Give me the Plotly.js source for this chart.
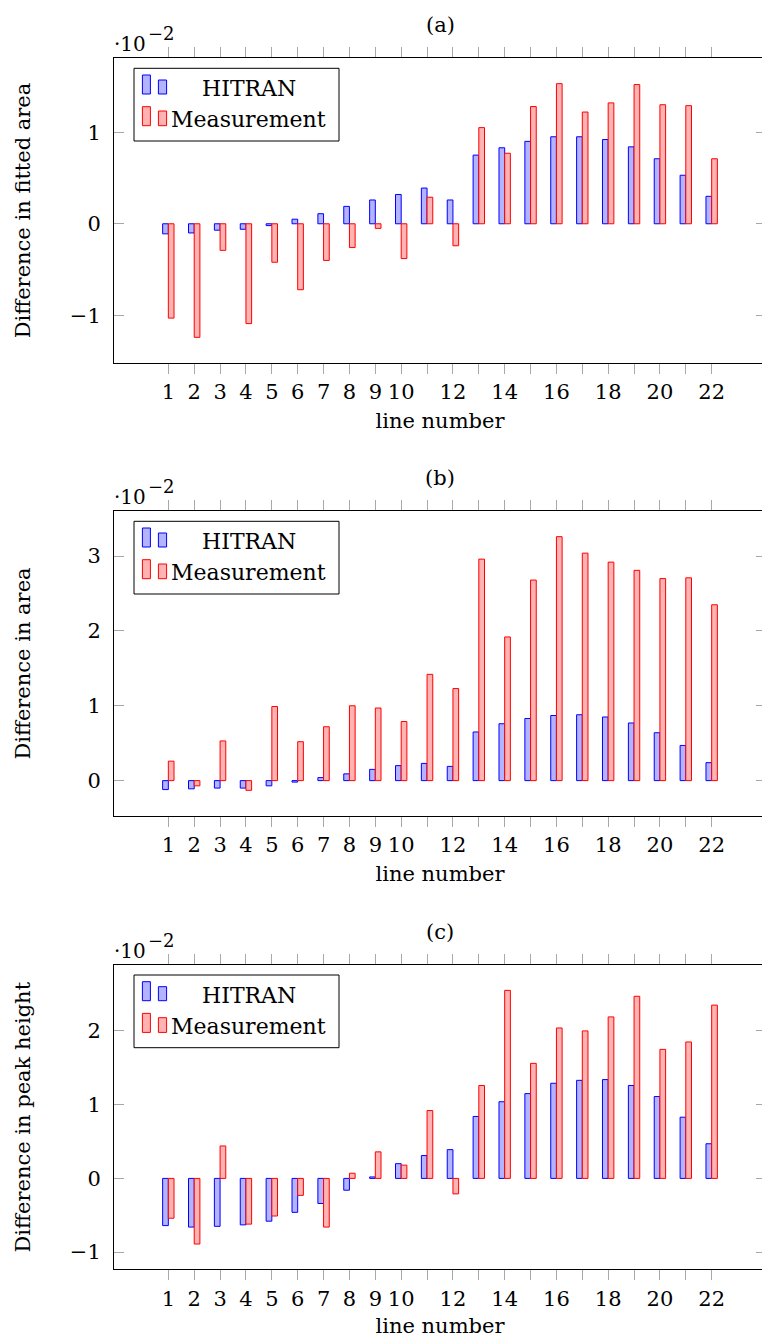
<!DOCTYPE html>
<html>
<head>
<meta charset="utf-8">
<script src="https://cdn.plot.ly/plotly-3.0.1.min.js"></script>
<style>
  html, body { margin: 0; padding: 0; overflow: hidden; background: #fff; }
  #chart { width: 780px; height: 1338px; }
</style>
</head>
<body>
<div id="chart"></div>
<script>
// Line numbers and their tick labels
const lineNumbers = [1,2,3,4,5,6,7,8,9,10,11,12,13,14,15,16,17,18,19,20,21,22];
const tickLabels = ['1','2','3','4','5','6','7','8','9','10','','12','','14','','16','','18','','20','','22'];

// (a) difference in fitted area, units of 1e-2
const fittedHitran = [-0.11,-0.10,-0.07,-0.06,-0.02,0.05,0.11,0.19,0.26,0.32,0.39,0.26,0.75,0.83,0.90,0.95,0.95,0.92,0.84,0.71,0.53,0.30];
const fittedMeas   = [-1.03,-1.24,-0.29,-1.09,-0.42,-0.72,-0.40,-0.26,-0.05,-0.38,0.29,-0.24,1.05,0.77,1.28,1.53,1.22,1.32,1.52,1.30,1.29,0.71];

// (b) difference in area, units of 1e-2
const areaHitran = [-0.12,-0.11,-0.10,-0.10,-0.07,-0.02,0.04,0.09,0.15,0.20,0.23,0.19,0.65,0.76,0.83,0.87,0.88,0.85,0.77,0.64,0.47,0.24];
const areaMeas   = [0.26,-0.07,0.53,-0.13,0.99,0.52,0.72,1.00,0.97,0.79,1.42,1.23,2.96,1.92,2.68,3.26,3.04,2.92,2.81,2.70,2.71,2.35];

// (c) difference in peak height, units of 1e-2
const heightHitran = [-0.64,-0.66,-0.65,-0.63,-0.58,-0.46,-0.34,-0.16,0.02,0.20,0.31,0.39,0.84,1.04,1.15,1.29,1.33,1.34,1.26,1.11,0.83,0.47];
const heightMeas   = [-0.54,-0.89,0.44,-0.62,-0.51,-0.23,-0.66,0.07,0.36,0.18,0.92,-0.21,1.26,2.55,1.56,2.04,2.00,2.19,2.47,1.75,1.85,2.35];

const panelTitles = ['(a)', '(b)', '(c)'];
const yTitles = ['Difference in fitted area', 'Difference in area', 'Difference in peak height'];
const seriesNames = ['HITRAN', 'Measurement'];

const panels = [
  { hitran: fittedHitran, meas: fittedMeas },
  { hitran: areaHitran, meas: areaMeas },
  { hitran: heightHitran, meas: heightMeas }
];

// Page geometry (pixels)
const W = 780, H = 1338;
const mL = 114, mR = 14;
const plotW = W - mL - mR;
const boxTops = [58.3, 511.3, 965];
const boxH = 304.4;
// y titles sit at the same page x; panels without negative tick labels need a larger standoff
const yTitleStandoff = [33, 51, 33];

const FONT = 'DejaVu Serif, serif';
const BLUE = 'rgb(0,0,255)', BLUE_FILL = 'rgb(179,179,255)';
const RED = 'rgb(255,0,0)', RED_FILL = 'rgb(255,179,179)';
const BAR_W = 0.22;

// axis limits enlarged by 10% of the data span on each side
function enlarged(lo, hi) {
  const d = hi - lo;
  return [lo - 0.1 * d, hi + 0.1 * d];
}

const traces = [];
const layout = {
  width: W, height: H,
  margin: { l: mL, r: mR, t: 0, b: 0, pad: 0 },
  paper_bgcolor: '#fff', plot_bgcolor: '#fff',
  showlegend: false,
  barmode: 'overlay',
  font: { family: FONT, color: '#000', size: 21 },
  annotations: [],
  shapes: []
};

// pixel offset inside a panel box -> axis-domain fraction
const dx = (px) => px / plotW;
const dy = (py) => 1 - py / boxH;

panels.forEach((p, i) => {
  const n = i === 0 ? '' : String(i + 1);
  const xa = 'x' + n, ya = 'y' + n;
  const top = boxTops[i];

  traces.push({
    type: 'bar', name: seriesNames[0], x: lineNumbers, y: p.hitran,
    xaxis: xa, yaxis: ya, width: BAR_W, offset: -BAR_W,
    marker: { color: BLUE_FILL, line: { color: BLUE, width: 1 } }
  });
  traces.push({
    type: 'bar', name: seriesNames[1], x: lineNumbers, y: p.meas,
    xaxis: xa, yaxis: ya, width: BAR_W, offset: 0,
    marker: { color: RED_FILL, line: { color: RED, width: 1 } }
  });

  const all = p.hitran.concat(p.meas, [0]);
  const xr = enlarged(Math.min(...lineNumbers), Math.max(...lineNumbers));

  layout['xaxis' + n] = {
    anchor: ya, domain: [0, 1], range: xr, fixedrange: true,
    tickmode: 'array', tickvals: lineNumbers, ticktext: tickLabels,
    ticks: 'outside', ticklen: 10, tickwidth: 1, tickcolor: '#a8a8a8',
    showline: true, linecolor: '#000', linewidth: 1, mirror: 'ticks',
    showgrid: false, zeroline: false,
    tickfont: { family: FONT, size: 21, color: '#000' },
    title: { text: 'line number', font: { family: FONT, size: 21, color: '#000' }, standoff: 10 }
  };
  layout['yaxis' + n] = {
    anchor: xa,
    domain: [1 - (top + boxH) / H, 1 - top / H],
    range: enlarged(Math.min(...all), Math.max(...all)), fixedrange: true,
    dtick: 1, tick0: 0,
    ticks: 'inside', ticklen: 10, tickwidth: 1, tickcolor: '#a8a8a8',
    showline: true, linecolor: '#000', linewidth: 1, mirror: 'ticks',
    showgrid: false, zeroline: false,
    tickfont: { family: FONT, size: 21, color: '#000' },
    ticklabelstandoff: 8,
    title: { text: yTitles[i], font: { family: FONT, size: 21, color: '#000' }, standoff: yTitleStandoff[i] }
  };

  // panel title
  layout.annotations.push({
    xref: 'paper', yref: 'paper', x: 0.5, y: 1 - (top - 33) / H,
    xanchor: 'center', yanchor: 'middle', showarrow: false,
    text: panelTitles[i], font: { family: FONT, size: 21, color: '#000' }
  });
  // common scale factor of the y axis
  layout.annotations.push({
    xref: 'paper', yref: 'paper', x: (112 - mL) / plotW, y: 1 - (top - 14) / H,
    xanchor: 'left', yanchor: 'middle', showarrow: false,
    text: '·10', font: { family: FONT, size: 20, color: '#000' }
  });
  layout.annotations.push({
    xref: 'paper', yref: 'paper', x: (146 - mL) / plotW, y: 1 - (top - 24.5) / H,
    xanchor: 'left', yanchor: 'middle', showarrow: false,
    text: '−2', font: { family: FONT, size: 18, color: '#000' }
  });

  // legend frame
  const dxr = xa + ' domain', dyr = ya + ' domain';
  layout.shapes.push({
    type: 'rect', xref: dxr, yref: dyr,
    x0: dx(20), x1: dx(225), y0: dy(10), y1: dy(82.7),
    line: { color: '#000', width: 1 }, fillcolor: '#fff', layer: 'above'
  });
  // legend bar icons: a tall and a short bar per entry
  const icons = [
    { y0: 16.7, y1: 35.7, x0: 28.4, x1: 36.4, c: BLUE, f: BLUE_FILL },
    { y0: 21.7, y1: 35.7, x0: 44.4, x1: 52.6, c: BLUE, f: BLUE_FILL },
    { y0: 48.4, y1: 67.4, x0: 28.4, x1: 36.4, c: RED, f: RED_FILL },
    { y0: 52.7, y1: 67.4, x0: 44.4, x1: 52.6, c: RED, f: RED_FILL }
  ];
  icons.forEach(ic => layout.shapes.push({
    type: 'rect', xref: dxr, yref: dyr,
    x0: dx(ic.x0), x1: dx(ic.x1), y0: dy(ic.y1), y1: dy(ic.y0),
    line: { color: ic.c, width: 1 }, fillcolor: ic.f, layer: 'above'
  }));
  [[seriesNames[0], 30.5], [seriesNames[1], 61]].forEach(([t, yo]) => layout.annotations.push({
    xref: dxr, yref: dyr, x: dx(134.7), y: dy(yo),
    xanchor: 'center', yanchor: 'middle', showarrow: false,
    text: t, font: { family: FONT, size: 22, color: '#000' }
  }));
});

Plotly.newPlot('chart', traces, layout, { staticPlot: true, displayModeBar: false });
</script>
</body>
</html>
